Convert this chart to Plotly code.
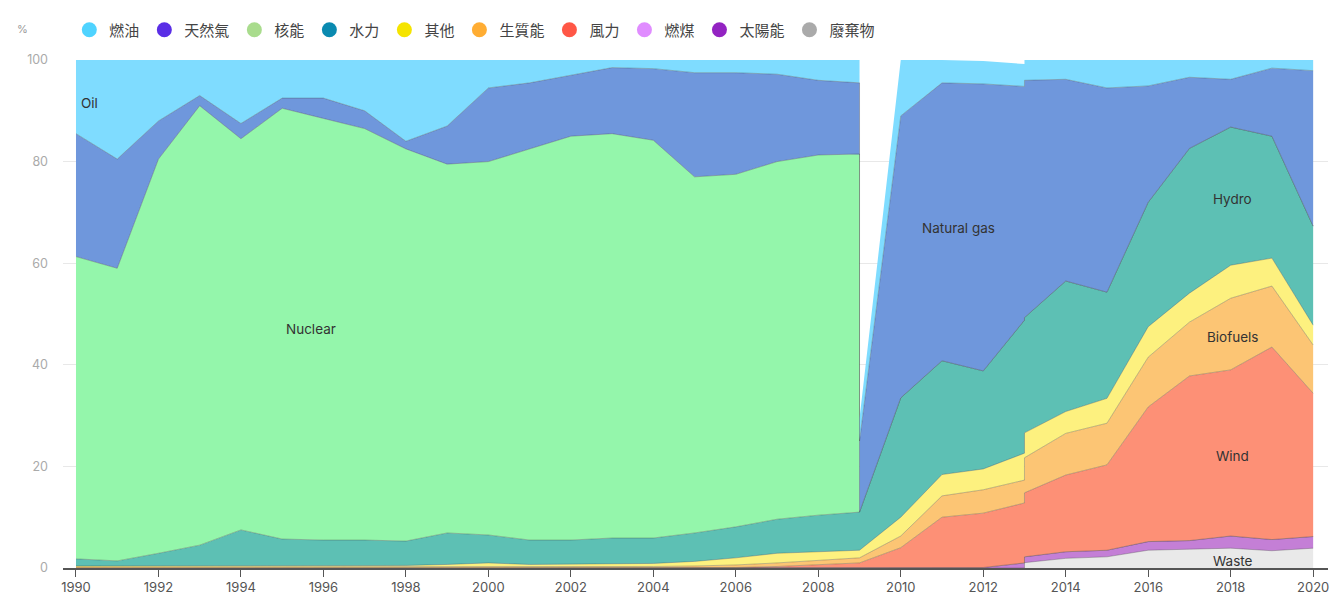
import numpy as np
import plotly.graph_objects as go

# x positions: 2009 and 2013 appear twice (series break)
years = [1990, 1991, 1992, 1993, 1994, 1995, 1996, 1997, 1998, 1999,
         2000, 2001, 2002, 2003, 2004, 2005, 2006, 2007, 2008, 2009,
         2009, 2010, 2011, 2012, 2013,
         2013, 2014, 2015, 2016, 2017, 2018, 2019, 2020]

# shares (%) per source, bottom of stack first
waste = [0]*20 + [0, 0, 0, 0, 0] + [1.05, 1.9, 2.2, 3.5, 3.7, 3.9, 3.4, 3.9]
solar = [0]*20 + [0, 0, 0, 0.1, 1.0] + [1.15, 1.3, 1.3, 1.7, 1.7, 2.4, 2.2, 2.3]
coal = [0]*33
wind = [0]*16 + [0.1, 0.3, 0.6, 1.0] + [1.0, 4.0, 10.0, 10.7, 11.8] + [12.6, 15.1, 16.8, 26.5, 32.4, 32.7, 37.9, 28.2]
biofuels = [0.2]*10 + [0.3, 0.3, 0.3, 0.3, 0.3, 0.4, 0.5, 0.7, 0.9, 1.0] + [1.0, 2.3, 4.2, 4.6, 4.5] + [6.9, 8.2, 8.2, 9.8, 10.6, 14.1, 12.0, 9.5]
other = [0.2]*7 + [0.3, 0.3, 0.5, 0.7, 0.4, 0.5, 0.6, 0.6, 0.9, 1.4, 1.9, 1.7, 1.5] + [1.5, 3.7, 4.2, 4.1, 5.3] + [4.9, 4.3, 4.9, 6.0, 5.7, 6.5, 5.5, 3.9]
hydro = [1.4, 1.0, 2.5, 4.1, 7.1, 5.3, 5.1, 5.0, 4.8, 6.2, 5.5, 4.8, 4.7, 5.0, 5.0, 5.6, 6.1, 6.7, 7.2, 7.5] + [7.5, 23.5, 22.4, 19.3, 26.2] + [22.7, 25.7, 20.9, 24.5, 28.5, 27.2, 24.0, 19.5]
nuclear = [59.5, 57.6, 77.6, 86.5, 77.0, 84.8, 83.0, 81.0, 77.2, 72.6, 73.5, 77.0, 79.5, 79.6, 78.3, 70.1, 69.4, 70.4, 70.9, 70.5] + [0]*5 + [0]*8
natural_gas = [24.2, 21.5, 7.5, 2.0, 3.0, 2.0, 4.0, 3.5, 1.5, 7.5, 14.5, 13.0, 12.0, 13.0, 14.1, 20.5, 20.0, 17.2, 14.7, 14.0] + [14.0, 55.5, 54.7, 56.5, 46.0] + [46.7, 39.7, 40.2, 22.9, 14.0, 9.4, 13.4, 30.6]
oil = [14.5, 19.5, 12.0, 7.0, 12.5, 7.5, 7.5, 10.0, 16.0, 13.0, 5.5, 4.5, 3.0, 1.5, 1.7, 2.5, 2.5, 2.8, 4.0, 4.5] + [4.5, 11.0, 4.5, 4.5, 4.4] + [4.0, 3.8, 5.5, 5.1, 3.4, 3.8, 1.6, 2.1]

series = [
    ("廢棄物", waste, "#e9e9e9", "#aaaaaa"),
    ("太陽能", solar, "#c47fd6", "#9323c2"),
    ("燃煤", coal, "#eeb3f7", "#e08cff"),
    ("風力", wind, "#fd9076", "#ff5746"),
    ("生質能", biofuels, "#fcc574", "#ffad33"),
    ("其他", other, "#fdf17f", "#f5e400"),
    ("水力", hydro, "#5dc0b4", "#0a8ab0"),
    ("核能", nuclear, "#94f6ab", "#a9dc8d"),
    ("天然氣", natural_gas, "#6f97dc", "#5a2ee6"),
    ("燃油", oil, "#7fdcff", "#4fd3ff"),
]
legend_order = ["燃油", "天然氣", "核能", "水力", "其他", "生質能", "風力", "燃煤", "太陽能", "廢棄物"]

fig = go.Figure()
cum = np.zeros(len(years))
for i, (name, vals, fill, dot) in enumerate(series):
    cum = cum + np.array(vals, dtype=float)
    lw = 0 if name == "燃油" else 0.8
    fig.add_trace(go.Scatter(
        x=years, y=cum.copy(), mode="lines",
        line=dict(width=lw, color="rgba(60,60,60,0.4)"),
        fill="tozeroy" if i == 0 else "tonexty",
        fillcolor=fill, showlegend=False, hoverinfo="skip", name=name))

dot_colors = {s[0]: s[3] for s in series}
for name in legend_order:
    fig.add_trace(go.Scatter(
        x=[None], y=[None], mode="markers", name=name,
        marker=dict(symbol="circle", size=15, color=dot_colors[name])))

labels = [("Oil", 1990.32, 91.5), ("Nuclear", 1995.7, 47), ("Natural gas", 2011.4, 67),
          ("Hydro", 2018.05, 72.6), ("Biofuels", 2018.05, 45.5), ("Wind", 2018.05, 22),
          ("Waste", 2018.05, 1.4)]
for txt, lx, ly in labels:
    fig.add_annotation(x=lx, y=ly, text=txt, showarrow=False,
                       font=dict(family="Inter, Lato, sans-serif", size=13.5, color="#333"))

fig.add_annotation(xref="paper", yref="paper", x=-0.038, y=1.079, text="%",
                   showarrow=False, font=dict(size=11, color="#999"))

fig.update_layout(
    width=1338, height=594,
    margin=dict(l=63, r=10, t=60, b=26, autoexpand=False),
    plot_bgcolor="white", paper_bgcolor="white",
    font=dict(family="Inter, 'Noto Sans CJK TC', sans-serif"),
    legend=dict(orientation="h", x=0.005, xanchor="left", y=1.059, yanchor="middle",
                traceorder="normal",
                font=dict(family="'Noto Sans CJK TC', sans-serif", size=15, color="#444"),
                itemclick=False, itemdoubleclick=False, bgcolor="rgba(0,0,0,0)"),
    showlegend=True,
)
fig.update_xaxes(range=[1989.685, 2020.36], tickmode="array",
                 tickvals=list(range(1990, 2021, 2)), showgrid=False,
                 showline=True, linecolor="#555", linewidth=1.5,
                 ticks="outside", ticklen=7, tickcolor="#555", tickwidth=1.2,
                 tickfont=dict(size=13, color="#555"), zeroline=False, automargin=False)
fig.update_yaxes(range=[0, 100], tickvals=[0, 20, 40, 60, 80, 100],
                 showgrid=True, gridcolor="#e8e8e8", gridwidth=1,
                 zeroline=False, showline=False, ticks="",
                 ticklabelstandoff=14, automargin=False,
                 tickfont=dict(size=12.5, color="#aaa"))

fig.write_html("out.html", config={"displayModeBar": False},
               post_script="document.body.style.margin='0';document.body.style.overflow='hidden';")
